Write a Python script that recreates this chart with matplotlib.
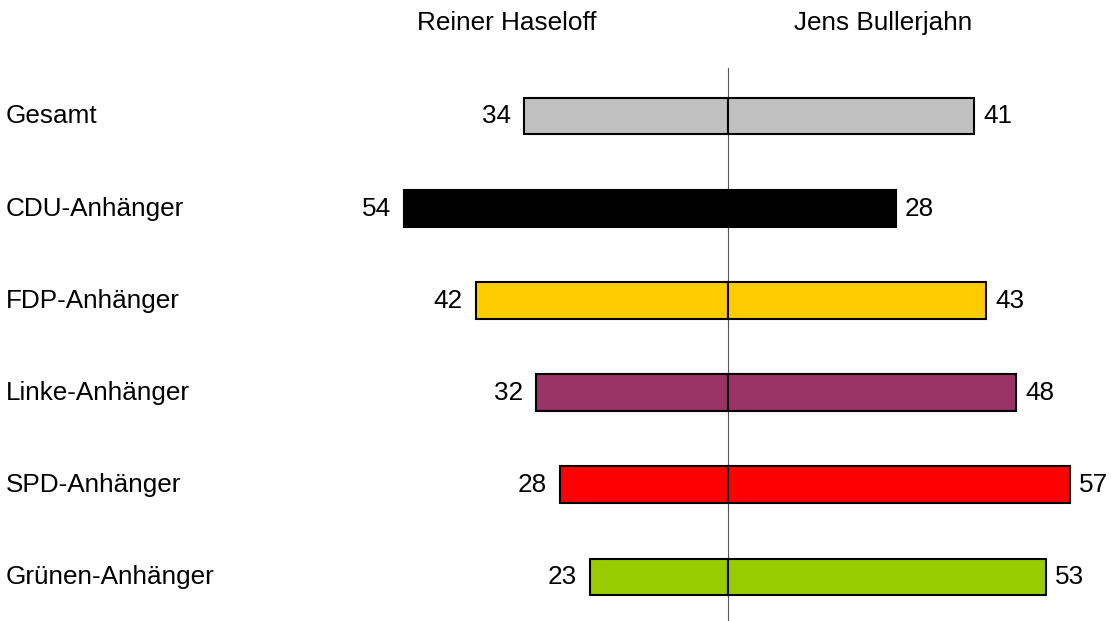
import matplotlib
matplotlib.use("Agg")
import matplotlib.pyplot as plt
import matplotlib.transforms as mtransforms

plt.rcParams['font.family'] = ['Liberation Sans', 'DejaVu Sans']

# data
groups = ["Gesamt", "CDU-Anhänger", "FDP-Anhänger", "Linke-Anhänger",
          "SPD-Anhänger", "Grünen-Anhänger"]
haseloff = [34, 54, 42, 32, 28, 23]
bullerjahn = [41, 28, 43, 48, 57, 53]
colors = ["#C0C0C0", "#000000", "#FFCC00", "#993366", "#FF0000", "#99CC00"]
headers = ["Reiner Haseloff", "Jens Bullerjahn"]

fig = plt.figure(figsize=(11.11, 6.21), dpi=100)
ax = fig.add_axes([0, 0, 1, 1])
ax.set_xlim(-728 / 6, (1111 - 728) / 6)
ax.set_ylim((621 - 116) / 92.2, -116 / 92.2)
ax.axis('off')

ypos = list(range(len(groups)))
fs = 18.8

# center line
ax.plot([0, 0], [-0.52, (621 - 116) / 92.2], color="#555555", lw=0.8, zorder=1)

ax.barh(ypos, [-v for v in haseloff], height=0.40, color=colors,
        edgecolor="black", linewidth=1.5, zorder=2)
ax.barh(ypos, bullerjahn, height=0.40, color=colors,
        edgecolor="black", linewidth=1.5, zorder=2)

lab_tr = mtransforms.blended_transform_factory(ax.transAxes, ax.transData)
for i, g in enumerate(groups):
    ax.text(6 / 1111, i + 0.08, g, transform=lab_tr, fontsize=fs,
            ha='left', va='baseline')
    ax.annotate(str(haseloff[i]), (-haseloff[i], i + 0.08),
                xytext=(-9.5, 0), textcoords='offset points',
                ha='right', va='baseline', fontsize=fs)
    ax.annotate(str(bullerjahn[i]), (bullerjahn[i], i + 0.08),
                xytext=(6.5, 0), textcoords='offset points',
                ha='left', va='baseline', fontsize=fs)

ax.text(-36.9, -0.93, headers[0], fontsize=fs, ha='center', va='baseline')
ax.text(25.8, -0.93, headers[1], fontsize=fs, ha='center', va='baseline')

fig.savefig("out.png", dpi=100)
